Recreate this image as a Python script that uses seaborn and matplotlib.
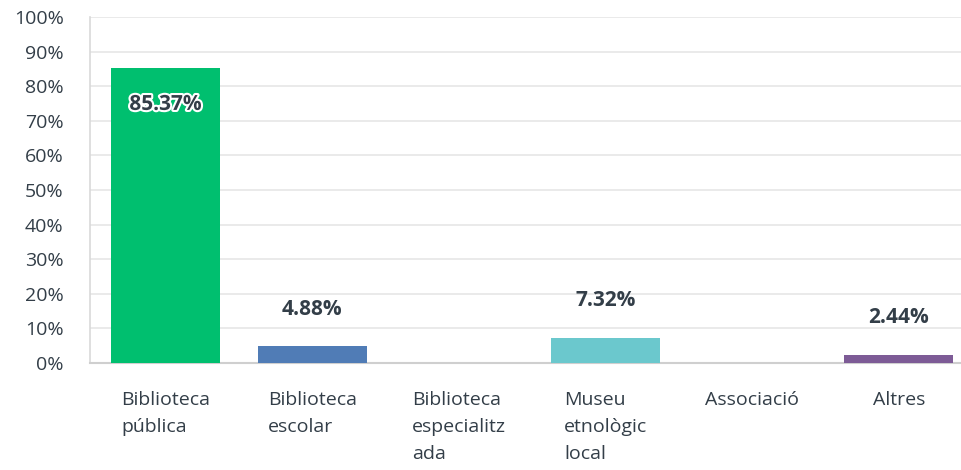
import matplotlib
matplotlib.use("Agg")
import matplotlib.pyplot as plt
import matplotlib.patheffects as pe
import seaborn as sns
import pandas as pd

categories = ["Biblioteca\npública", "Biblioteca\nescolar", "Biblioteca\nespecialitz\nada",
              "Museu\netnològic\nlocal", "Associació", "Altres"]
values = [85.37, 4.88, 0.0, 7.32, 0.0, 2.44]
colors = ["#00BF6F", "#507CB6", "#A0A0A0", "#6BC8CD", "#A0A0A0", "#7D5B96"]
yticks = list(range(0, 101, 10))

sns.set_style("white")
plt.rcParams["font.family"] = ["Open Sans", "DejaVu Sans"]
text_color = "#333E48"

df = pd.DataFrame({"cat": categories, "val": values})

fig = plt.figure(figsize=(9.62, 4.70), dpi=100)
ax = fig.add_axes([90 / 962, 1 - 363 / 470, (962 - 90) / 962, (363 - 17) / 470])

sns.barplot(data=df, x="cat", y="val", hue="cat", palette=colors, legend=False,
            width=0.744, saturation=1, linewidth=0, ax=ax, zorder=3)

ax.set_xlim(-0.515, 5.43)
ax.set_ylim(0, 100)
ax.set_yticks(yticks)
ax.set_yticklabels([f"{t}%" for t in yticks])
ax.yaxis.grid(True, color="#E6E6E6", linewidth=1.2, zorder=0)
ax.set_xlabel("")
ax.set_ylabel("")

for s in ["top", "right"]:
    ax.spines[s].set_visible(False)
ax.spines["left"].set_color("#D9D9D9")
ax.spines["bottom"].set_color("#CFCFCF")
ax.spines["left"].set_linewidth(1.2)
ax.spines["bottom"].set_linewidth(1.5)

ax.tick_params(axis="y", length=0, pad=19, labelsize=14, labelcolor=text_color)
ax.tick_params(axis="x", length=0, pad=20, labelsize=14, labelcolor=text_color)
for lbl in ax.get_xticklabels():
    lbl.set_multialignment("left")
    lbl.set_linespacing(1.65)
    lbl.set_verticalalignment("top")

for i, v in enumerate(values):
    if v <= 0:
        continue
    if v > 50:
        ax.annotate(f"{v:.2f}%", (i, v), xytext=(0, -26.5), textcoords="offset points",
                    ha="center", va="center", fontsize=15, fontweight="bold", color=text_color,
                    path_effects=[pe.withStroke(linewidth=3, foreground="white")], zorder=5)
    else:
        ax.annotate(f"{v:.2f}%", (i, v), xytext=(0, 26.5), textcoords="offset points",
                    ha="center", va="center", fontsize=15, fontweight="bold", color=text_color,
                    zorder=5)

fig.savefig("out.png", dpi=100)
